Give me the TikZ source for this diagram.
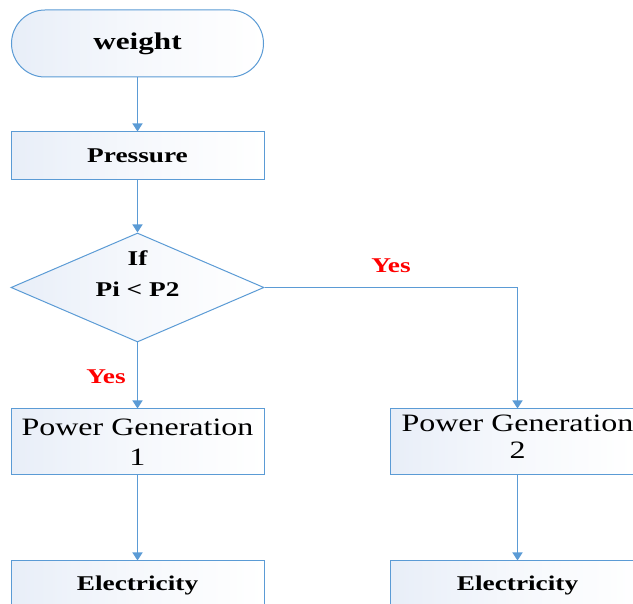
\documentclass[tikz,border=0pt]{standalone}
\usepackage{fontspec}
\setmainfont{Liberation Serif}
\usetikzlibrary{shapes.geometric,shapes.misc,arrows.meta}
\definecolor{edgec}{HTML}{5B9BD5}
\definecolor{fillc}{HTML}{E8EEF8}
\definecolor{yesred}{HTML}{FF0000}
\newcommand{\hs}[1]{\scalebox{1.3}[1]{#1}}
\newcommand{\hsr}[1]{\scalebox{1.28}[1]{#1}}
\begin{document}
\begin{tikzpicture}[x=1pt,y=-1pt,
  box/.style={draw=edgec, line width=1pt, left color=fillc, right color=white, middle color=white!60!fillc, inner sep=0pt, align=center},
  conn/.style={draw=edgec, line width=1.5pt, -{Triangle[width=10pt,length=8pt]}},
  bt/.style={font=\bfseries\fontsize{21}{25}\selectfont},
  rt/.style={font=\fontsize{25}{30}\selectfont, align=center},
  yes/.style={font=\bfseries\fontsize{21}{25}\selectfont, text=yesred}]
\useasboundingbox (0,0) rectangle (633,604);
\clip (0,0) rectangle (633,604);
% nodes
\node[box, rounded rectangle, minimum width=252pt, minimum height=67pt, font=\bfseries\fontsize{24}{28}\selectfont] (weight) at (137.5,43.5) {\hs{weight}};
\node[box, rectangle, minimum width=253pt, minimum height=48pt, bt] (press) at (137.5,156) {\hs{Pressure}};
\node[box, diamond, minimum width=253pt, minimum height=109pt] (dia) at (137.5,287.5) {};
\node[bt, align=center] (diat) at (137.5,274) {\hs{If}\\[6pt]\hs{Pi < P2}};
\node[box, rectangle, minimum width=253pt, minimum height=66pt, rt] (pg1) at (137.5,442) {\hsr{Power Generation}\\\hsr{1}};
\node[box, rectangle, minimum width=243pt, minimum height=66pt, anchor=west] (pg2) at (390,442) {};
\node[rt, font=\fontsize{25}{27}\selectfont] (pg2t) at (517.5,436.5) {\hsr{Power Generation}\\\hsr{2}};
\node[box, rectangle, minimum width=253pt, minimum height=48pt, bt] (el1) at (137.5,585) {\hs{Electricity}};
\node[box, rectangle, minimum width=255pt, minimum height=48pt, bt] (el2) at (517.5,585) {\hs{Electricity}};
\node[yes] (yes1) at (106,377) {\hs{Yes}};
\node[yes] (yes2) at (391,266) {\hs{Yes}};
% connectors
\coordinate (turn) at (517.5,287.5);
\draw[conn] (weight.south) -- (press.north);
\draw[conn] (press.south) -- (dia.north);
\draw[conn] (dia.south) -- (pg1.north);
\draw[conn] (dia.east) -- (turn) -- (turn |- pg2.north);
\draw[conn] (pg1.south) -- (el1.north);
\draw[conn] (turn |- pg2.south) -- (el2.north);
\end{tikzpicture}
\end{document}
